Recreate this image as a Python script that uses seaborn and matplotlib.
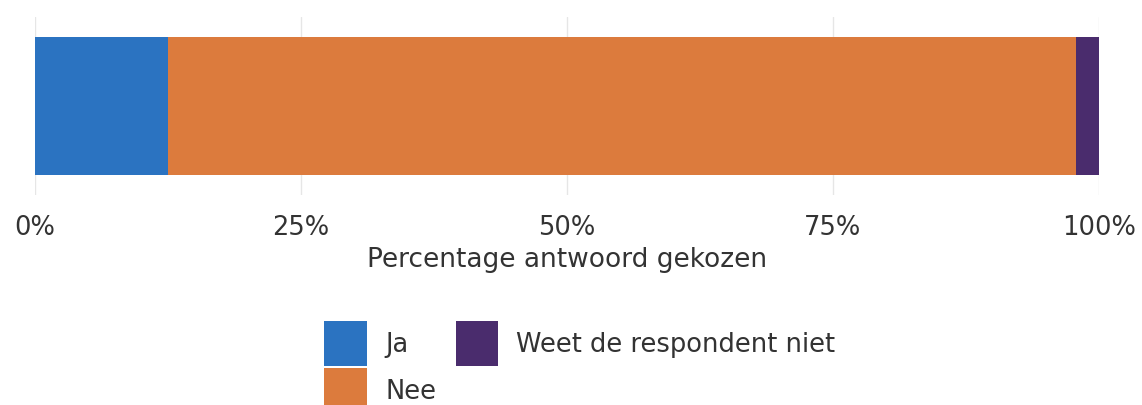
import matplotlib
matplotlib.use("Agg")
import matplotlib.pyplot as plt
import seaborn as sns
import pandas as pd

categories = ["Ja", "Nee", "Weet de respondent niet"]
values = [12.5, 85.3, 2.2]
colors = ["#2b73c1", "#dc7b3d", "#4a2c6d"]
ticks = [0, 25, 50, 75, 100]
tick_labels = ["0%", "25%", "50%", "75%", "100%"]
xlabel = "Percentage antwoord gekozen"

sns.set_theme(style="white")
plt.rcParams["font.family"] = ["DejaVu Sans"]

fig = plt.figure(figsize=(11.42, 4.06), dpi=100)
ax = fig.add_axes([35/1142, 1-196/406, (1099-35)/1142, (196-18)/406])

cum = []
s = 0
for v in values:
    s += v
    cum.append(s)

row = "q"
for cat, end, col in reversed(list(zip(categories, cum, colors))):
    df = pd.DataFrame({"y": [row], "x": [end]})
    sns.barplot(data=df, x="x", y="y", color=col, saturation=1, width=0.77,
                ax=ax, label=cat, zorder=3, edgecolor="none", linewidth=0,
                legend=False)

leg0 = ax.get_legend()
if leg0 is not None:
    leg0.remove()

ax.set_xlim(0, 100)
ax.set_xticks(ticks)
ax.set_xticklabels(tick_labels, fontsize=18.5, color="#333333")
ax.set_yticks([])
ax.set_ylabel("")
ax.set_xlabel(xlabel, fontsize=19, color="#333333", labelpad=4)
ax.tick_params(axis="x", length=0, pad=14)
for sp in ax.spines.values():
    sp.set_visible(False)
ax.grid(axis="x", color="#e6e6e6", linewidth=1, zorder=0)
ax.set_axisbelow(True)

h, l = ax.get_legend_handles_labels()
order = [l.index(c) for c in categories]
fig.legend([h[i] for i in order], [l[i] for i in order], ncol=2,
           loc="upper center", bbox_to_anchor=(580/1142, 1-309/406),
           frameon=False, fontsize=18.5, handlelength=1.67, handleheight=2.3,
           handletextpad=0.7, columnspacing=0.75, labelspacing=0.08,
           borderpad=0, labelcolor="#333333")

fig.savefig("out.png", dpi=100)
